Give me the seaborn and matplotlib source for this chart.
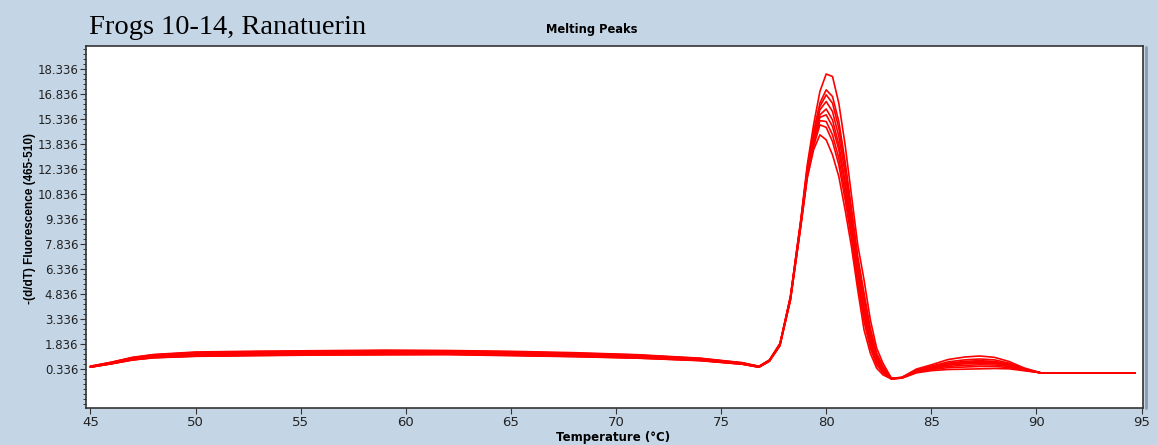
import pandas as pd
import seaborn as sns
import matplotlib.pyplot as plt
from matplotlib import font_manager
from matplotlib.ticker import FixedLocator, MultipleLocator

# temperature grid (deg C) shared by all melt curves
temps = [45.0, 46.0, 47.0, 48.0, 50.0, 53.0, 56.0, 59.0, 62.0, 65.0, 68.0, 71.0, 74.0, 76.0, 76.8,
         77.3, 77.8, 78.3, 78.8, 79.1, 79.4, 79.7, 80.0, 80.3, 80.6, 80.9, 81.2, 81.5, 81.8,
         82.1, 82.4, 82.7, 83.1,
         83.6, 84.3, 85.0, 85.8, 86.6, 87.3, 88.0, 88.7, 89.4, 90.2, 94.7]

# -(d/dT) fluorescence, one list per sample
s1 = [0.50, 0.74, 1.02, 1.18, 1.32, 1.37, 1.40, 1.43, 1.40, 1.36, 1.28, 1.17, 0.97, 0.71, 0.50,
      0.88, 1.85, 4.7, 9.4, 12.6, 15.0, 17.0, 18.05, 17.9, 16.3, 13.8, 10.8, 7.8, 5.7,
      3.3, 1.6, 0.7, -0.2,
      -0.16, 0.30, 0.52, 0.78, 0.90, 0.95, 0.90, 0.70, 0.38, 0.12, 0.1]
s2 = [0.47, 0.68, 0.92, 1.06, 1.17, 1.22, 1.26, 1.28, 1.27, 1.22, 1.16, 1.06, 0.89, 0.66, 0.47,
      0.84, 1.80, 4.7, 9.3, 12.4, 14.6, 16.3, 17.1, 16.7, 15.2, 12.8, 10.0, 7.1, 4.9,
      2.8, 1.3, 0.5, -0.21,
      -0.15, 0.35, 0.60, 0.92, 1.07, 1.13, 1.05, 0.80, 0.42, 0.12, 0.1]
s3 = [0.51, 0.75, 1.03, 1.20, 1.34, 1.39, 1.41, 1.45, 1.44, 1.38, 1.30, 1.19, 0.98, 0.72, 0.51,
      0.88, 1.86, 4.7, 9.3, 12.3, 14.5, 16.1, 16.8, 16.3, 14.8, 12.5, 9.8, 6.9, 4.7,
      2.6, 1.2, 0.45, -0.22,
      -0.17, 0.25, 0.45, 0.66, 0.76, 0.80, 0.76, 0.61, 0.35, 0.12, 0.1]
s4 = [0.48, 0.71, 0.96, 1.11, 1.23, 1.28, 1.31, 1.33, 1.34, 1.28, 1.21, 1.10, 0.93, 0.69, 0.49,
      0.86, 1.82, 4.6, 9.2, 12.2, 14.3, 15.9, 16.4, 15.8, 14.3, 12.1, 9.4, 6.6, 4.4,
      2.4, 1.05, 0.4, -0.22,
      -0.18, 0.22, 0.40, 0.58, 0.66, 0.70, 0.67, 0.55, 0.32, 0.12, 0.1]
s5 = [0.46, 0.66, 0.89, 1.02, 1.11, 1.15, 1.19, 1.20, 1.21, 1.15, 1.09, 1.00, 0.85, 0.64, 0.46,
      0.82, 1.76, 4.6, 9.2, 12.2, 14.2, 15.6, 15.95, 15.3, 13.8, 11.6, 9.1, 6.3, 4.0,
      2.2, 0.95, 0.3, -0.23,
      -0.17, 0.24, 0.43, 0.63, 0.71, 0.75, 0.72, 0.58, 0.34, 0.12, 0.1]
s6 = [0.49, 0.72, 0.98, 1.14, 1.27, 1.32, 1.35, 1.38, 1.36, 1.32, 1.25, 1.14, 0.95, 0.70, 0.49,
      0.86, 1.83, 4.6, 9.1, 12.1, 14.0, 15.45, 15.6, 14.9, 13.5, 11.3, 8.8, 6.1, 3.8,
      2.0, 0.85, 0.25, -0.23,
      -0.18, 0.19, 0.36, 0.51, 0.57, 0.60, 0.59, 0.50, 0.30, 0.12, 0.1]
s7 = [0.46, 0.67, 0.90, 1.04, 1.14, 1.19, 1.22, 1.24, 1.25, 1.19, 1.12, 1.03, 0.87, 0.65, 0.46,
      0.83, 1.78, 4.5, 9.1, 12.0, 13.9, 15.25, 15.2, 14.4, 13.0, 10.9, 8.5, 5.8, 3.5,
      1.8, 0.7, 0.18, -0.24,
      -0.19, 0.16, 0.31, 0.43, 0.47, 0.50, 0.50, 0.44, 0.28, 0.12, 0.1]
s8 = [0.52, 0.76, 1.05, 1.22, 1.37, 1.42, 1.45, 1.48, 1.46, 1.41, 1.33, 1.21, 1.00, 0.73, 0.51,
      0.89, 1.88, 4.5, 9.0, 11.9, 13.7, 15.0, 14.85, 14.0, 12.6, 10.5, 8.2, 5.5, 3.2,
      1.6, 0.6, 0.11, -0.24,
      -0.17, 0.27, 0.47, 0.70, 0.81, 0.85, 0.81, 0.64, 0.36, 0.12, 0.1]
s9 = [0.46, 0.67, 0.90, 1.03, 1.12, 1.17, 1.20, 1.22, 1.23, 1.17, 1.10, 1.01, 0.86, 0.64, 0.46,
      0.82, 1.75, 4.5, 9.0, 11.8, 13.5, 14.4, 14.1, 13.2, 11.9, 9.9, 7.7, 5.1, 2.7,
      1.3, 0.4, 0.0, -0.25,
      -0.2, 0.12, 0.25, 0.32, 0.34, 0.36, 0.38, 0.36, 0.25, 0.12, 0.1]
samples = [s1, s2, s3, s4, s5, s6, s7, s8, s9]

xticks = [45, 50, 55, 60, 65, 70, 75, 80, 85, 90, 95]
yticks = [0.336, 1.836, 3.336, 4.836, 6.336, 7.836, 9.336, 10.836,
          12.336, 13.836, 15.336, 16.836, 18.336]

rows = []
for i, vals in enumerate(samples):
    for t, v in zip(temps, vals):
        rows.append({"sample": i, "temp": t, "value": v})
df = pd.DataFrame(rows)

installed = {f.name for f in font_manager.fontManager.ttflist}
narrow = "Liberation Sans Narrow" if "Liberation Sans Narrow" in installed else "DejaVu Sans"
xt_size = 10 if narrow != "DejaVu Sans" else 9.5

sns.set_style("ticks")
plt.rcParams["font.family"] = ["DejaVu Sans"]
bg = "#C4D5E6"

fig = plt.figure(figsize=(11.57, 4.45), dpi=100, facecolor=bg)
ax = fig.add_axes([86 / 1157, 1 - 408 / 445, (1143 - 86) / 1157, (408 - 46) / 445])
ax.set_facecolor("white")

sns.lineplot(data=df, x="temp", y="value", units="sample", estimator=None,
             color="#FF0000", linewidth=1.2, ax=ax, legend=False)

ax.set_xlim(44.79, 95.07)
ax.set_ylim(-1.99, 19.73)
ax.xaxis.set_major_locator(FixedLocator(xticks))
ax.yaxis.set_major_locator(FixedLocator(yticks))
ax.yaxis.set_minor_locator(MultipleLocator(0.3, offset=0.036))
ax.set_yticklabels([f"{v:.3f}" for v in yticks], fontsize=8.5, color="#222222")
ax.set_xticklabels([str(v) for v in xticks], family=narrow, fontsize=xt_size, color="#222222")
ax.tick_params(axis="both", which="major", length=4, width=0.8, color="#333333", pad=1.5)
ax.tick_params(axis="y", which="minor", length=2, width=0.7, color="#333333")
ax.set_xlabel("")
ax.set_ylabel("")
for side in ["left", "bottom", "top", "right"]:
    ax.spines[side].set_visible(True)
    ax.spines[side].set_color("#333333")
    ax.spines[side].set_linewidth(1.2)
# light shadow along the right edge of the plot panel
fig.add_artist(plt.Line2D([1145.5 / 1157, 1145.5 / 1157], [1 - 408 / 445, 1 - 47 / 445],
                          transform=fig.transFigure, color="#8C9AAA", lw=2))

fig.text(89 / 1157, 1 - 28 / 445, "Frogs 10-14, Ranatuerin", family="Liberation Serif",
         fontsize=20.5, va="center", ha="left", color="black")
fig.text(592 / 1157, 1 - 29 / 445, "Melting Peaks", fontsize=8.3, fontweight="bold",
         ha="center", va="center", color="black")
fig.text(30 / 1157, 1 - 218 / 445, "-(d/dT) Fluorescence (465-510)", family="Liberation Sans",
         fontsize=8.5, fontweight="bold", rotation=90, ha="center", va="center", color="black")
fig.text(613 / 1157, 1 - 437 / 445, "Temperature (°C)", family=narrow,
         fontsize=10 if narrow != "DejaVu Sans" else 8.5, fontweight="bold",
         ha="center", va="center", color="black")

fig.savefig("out.png", dpi=100, facecolor=bg)
